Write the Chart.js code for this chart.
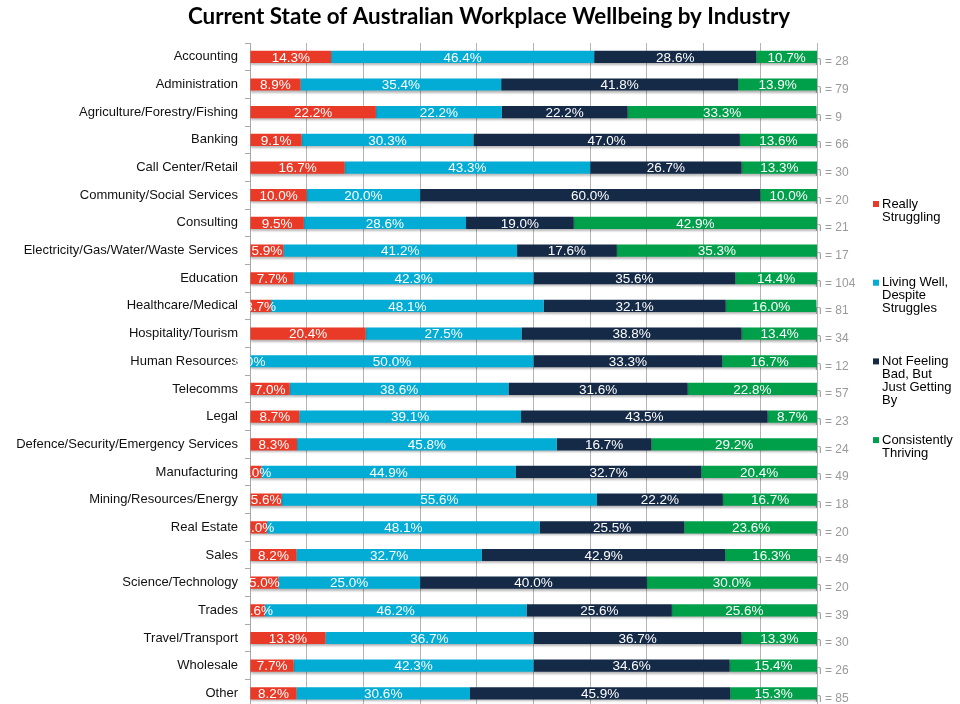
<!DOCTYPE html>
<html>
<head>
<meta charset="utf-8">
<script src="https://cdn.jsdelivr.net/npm/chart.js@4.4.1/dist/chart.umd.min.js"></script>
<style>
  html, body { margin: 0; padding: 0; background: #fff; overflow: hidden; }
  #chart { display: block; }
</style>
</head>
<body>
<canvas id="chart" width="960" height="722" style="width:960px;height:722px"></canvas>
<script>
// Industry categories (top to bottom)
var industries = ['Accounting', 'Administration', 'Agriculture/Forestry/Fishing', 'Banking',
    'Call Center/Retail', 'Community/Social Services', 'Consulting',
    'Electricity/Gas/Water/Waste Services', 'Education', 'Healthcare/Medical',
    'Hospitality/Tourism', 'Human Resources', 'Telecomms', 'Legal',
    'Defence/Security/Emergency Services', 'Manufacturing', 'Mining/Resources/Energy',
    'Real Estate', 'Sales', 'Science/Technology', 'Trades', 'Travel/Transport',
    'Wholesale', 'Other'];

// Percentages per wellbeing group
var reallyStruggling = [14.3, 8.9, 22.2, 9.1, 16.7, 10.0, 9.5, 5.9, 7.7, 3.7, 20.4, 0.0, 7.0, 8.7, 8.3, 2.0, 5.6, 3.0, 8.2, 5.0, 2.6, 13.3, 7.7, 8.2];
var livingWell       = [46.4, 35.4, 22.2, 30.3, 43.3, 20.0, 28.6, 41.2, 42.3, 48.1, 27.5, 50.0, 38.6, 39.1, 45.8, 44.9, 55.6, 48.1, 32.7, 25.0, 46.2, 36.7, 42.3, 30.6];
var gettingBy        = [28.6, 41.8, 22.2, 47.0, 26.7, 60.0, 19.0, 17.6, 35.6, 32.1, 38.8, 33.3, 31.6, 43.5, 16.7, 32.7, 22.2, 25.5, 42.9, 40.0, 25.6, 36.7, 34.6, 45.9];
var thriving         = [10.7, 13.9, 33.3, 13.6, 13.3, 10.0, 42.9, 35.3, 14.4, 16.0, 13.4, 16.7, 22.8, 8.7, 29.2, 20.4, 16.7, 23.6, 16.3, 30.0, 25.6, 13.3, 15.4, 15.3];

// Sample sizes shown at the end of each bar
var sampleSizes = [28, 79, 9, 66, 30, 20, 21, 17, 104, 81, 34, 12, 57, 23, 24, 49, 18, 20, 49, 20, 39, 30, 26, 85];

var seriesNames = [['Really', 'Struggling'], ['Living Well,', 'Despite', 'Struggles'],
    ['Not Feeling', 'Bad, But', 'Just Getting', 'By'], ['Consistently', 'Thriving']];
var seriesColors = ['#E93A28', '#03ACD5', '#152A47', '#00A04B'];

var chartTitle = 'Current State of Australian Workplace Wellbeing by Industry';
var FONT = '"Liberation Sans", Arial, Helvetica, sans-serif';

var annotate = {
    id: 'annotate',
    beforeDatasetsDraw: function (chart) {
        var ctx = chart.ctx;
        var yScale = chart.scales.y;
        // n = labels sit just past the 100% line, partly under the bars
        ctx.save();
        ctx.font = '12px ' + FONT;
        ctx.fillStyle = '#9a9a9a';
        ctx.textAlign = 'left';
        ctx.textBaseline = 'middle';
        sampleSizes.forEach(function (n, i) {
            ctx.fillText('n = ' + n, chart.chartArea.right - 2, yScale.getPixelForValue(i) + 5);
        });
        ctx.restore();
        // soft shadow under the bars
        ctx.save();
        ctx.shadowColor = 'rgba(0,0,0,0.28)';
        ctx.shadowBlur = 2;
        ctx.shadowOffsetY = 2;
    },
    afterDatasetsDraw: function (chart) {
        var ctx = chart.ctx;
        ctx.restore();
        ctx.save();
        ctx.font = '13.5px ' + FONT;
        ctx.fillStyle = '#ffffff';
        ctx.textAlign = 'center';
        ctx.textBaseline = 'middle';
        chart.data.datasets.forEach(function (ds, d) {
            var meta = chart.getDatasetMeta(d);
            meta.data.forEach(function (bar, i) {
                var cx = (bar.x + bar.base) / 2;
                ctx.fillText(ds.data[i].toFixed(1) + '%', cx, bar.y + 1);
            });
        });
        ctx.restore();
    },
    afterDraw: function (chart) {
        var ctx = chart.ctx;
        ctx.save();
        // title
        ctx.font = 'bold 22.4px Lato, "Open Sans", sans-serif';
        ctx.fillStyle = '#000';
        ctx.textAlign = 'center';
        ctx.textBaseline = 'middle';
        ctx.fillText(chartTitle, 489, 17);
        // legend
        ctx.font = '13px ' + FONT;
        ctx.textAlign = 'left';
        seriesNames.forEach(function (lines, k) {
            var y0 = 204 + k * 78.7;
            ctx.fillStyle = seriesColors[k];
            ctx.fillRect(873, y0 - 3, 6, 6);
            ctx.fillStyle = '#000';
            lines.forEach(function (t, j) {
                ctx.fillText(t, 882, y0 + j * 13);
            });
        });
        ctx.restore();
    }
};

var values = [reallyStruggling, livingWell, gettingBy, thriving];
var ctx = document.getElementById('chart').getContext('2d');
var wellbeingChart = new Chart(ctx, {
    type: 'bar',
    data: {
        labels: industries,
        datasets: values.map(function (v, k) {
            return {
                label: seriesNames[k].join(' '),
                data: v,
                backgroundColor: seriesColors[k],
                borderWidth: 0,
                categoryPercentage: 1,
                barPercentage: 0.44
            };
        })
    },
    options: {
        indexAxis: 'y',
        responsive: false,
        animation: false,
        layout: { padding: { top: 43, right: 143, left: 0, bottom: 0 } },
        plugins: {
            legend: { display: false },
            title: { display: false },
            tooltip: { enabled: false }
        },
        scales: {
            x: {
                stacked: true,
                min: 0,
                max: 100,
                ticks: { display: false, stepSize: 10 },
                grid: { color: '#b4b4b4', drawTicks: false },
                border: { display: false },
                afterFit: function (scale) { scale.height = 0; }
            },
            y: {
                stacked: true,
                ticks: { font: { family: FONT, size: 13 }, color: '#111', padding: 7 },
                grid: { offset: true, drawOnChartArea: false, tickLength: 5, color: '#a8a8a8' },
                border: { color: '#a8a8a8' },
                afterFit: function (scale) { scale.width = 250; }
            }
        }
    },
    plugins: [annotate]
});
</script>
</body>
</html>
